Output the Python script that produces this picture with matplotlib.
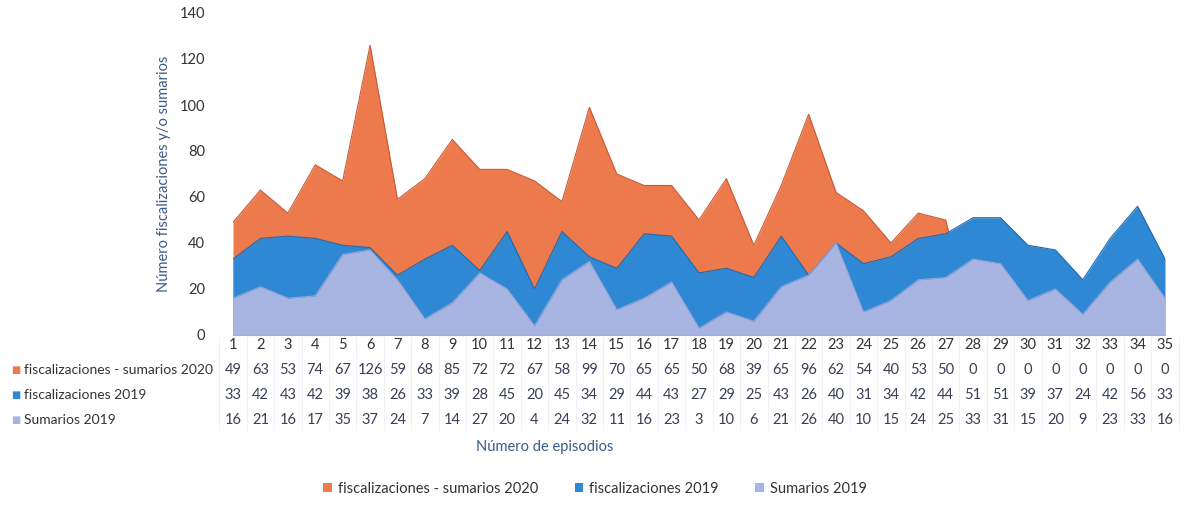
import matplotlib.pyplot as plt
import matplotlib.transforms as mtransforms
from matplotlib.patches import Patch

plt.rcParams['font.family'] = ['Lato', 'DejaVu Sans']

episodios = list(range(1, 36))
fisc_sum_2020 = [49, 63, 53, 74, 67, 126, 59, 68, 85, 72, 72, 67, 58, 99, 70, 65, 65, 50,
                 68, 39, 65, 96, 62, 54, 40, 53, 50, 0, 0, 0, 0, 0, 0, 0, 0]
fisc_2019 = [33, 42, 43, 42, 39, 38, 26, 33, 39, 28, 45, 20, 45, 34, 29, 44, 43, 27,
             29, 25, 43, 26, 40, 31, 34, 42, 44, 51, 51, 39, 37, 24, 42, 56, 33]
sumarios_2019 = [16, 21, 16, 17, 35, 37, 24, 7, 14, 27, 20, 4, 24, 32, 11, 16, 23, 3,
                 10, 6, 21, 26, 40, 10, 15, 24, 25, 33, 31, 15, 20, 9, 23, 33, 16]

labels = ['fiscalizaciones - sumarios 2020', 'fiscalizaciones 2019', 'Sumarios 2019']
colors = ['#EC7A4D', '#2F88D3', '#A8B5E2']
edges = ['#C85A35', '#1F6AAE', '#97A4D4']
series = [fisc_sum_2020, fisc_2019, sumarios_2019]

fig = plt.figure(figsize=(11.87, 5.05), dpi=100)
ax = fig.add_axes([233 / 1187, 1 - 335 / 505, (1165 - 233) / 1187, (335 - 13) / 505])

z = 1
for vals, c, e in zip(series, colors, edges):
    ax.fill_between(episodios, vals, 0, color=c, linewidth=0, zorder=z)
    ax.plot(episodios, vals, color=e, linewidth=0.8, zorder=z + 1)
    z += 2

ax.set_xlim(1, 35)
ax.set_ylim(0, 140)
ax.set_yticks(range(0, 141, 20))
ax.tick_params(axis='y', length=0, labelsize=10.5, labelcolor='#333333', pad=20)
ax.set_xticks([])
for s in ['top', 'right', 'left']:
    ax.spines[s].set_visible(False)
ax.spines['bottom'].set_color('#9fb0d0')
ax.spines['bottom'].set_zorder(10)
ax.set_ylabel('Número fiscalizaciones y/o sumarios', fontsize=10.5, color='#3b5b8a', labelpad=6)

# data table under the axis
tr = mtransforms.blended_transform_factory(ax.transData, fig.transFigure)
row_y = [1 - 345 / 505, 1 - 370 / 505, 1 - 395 / 505, 1 - 420 / 505]
for i, ep in enumerate(episodios):
    ax.text(ep, row_y[0], str(ep), transform=tr, ha='center', va='center',
            fontsize=10.5, color='#333333', clip_on=False)
    for r, vals in enumerate(series):
        ax.text(ep, row_y[r + 1], str(vals[i]), transform=tr, ha='center', va='center',
                fontsize=10.5, color='#3a3f55', clip_on=False)
for k in range(0, 36):
    ax.plot([k + 0.5, k + 0.5], [1 - 337 / 505, 1 - 430 / 505], transform=tr,
            color='#eceff5', linewidth=0.6, clip_on=False)

for r, (lab, c) in enumerate(zip(labels, colors)):
    fig.text(11 / 1187, row_y[r + 1], '■', color=c, fontsize=7, va='center',
             family='DejaVu Sans')
    fig.text(24 / 1187, row_y[r + 1], lab, color='#333333', fontsize=10, va='center')

fig.text(545 / 1187, 1 - 447 / 505, 'Número de episodios', fontsize=10.5,
         color='#3b5b8a', ha='center', va='center')

handles = [Patch(facecolor=c, edgecolor='none') for c in colors]
fig.legend(handles, labels, loc='center', bbox_to_anchor=(595 / 1187, 1 - 489 / 505),
           ncol=3, frameon=False, fontsize=10.5, handlelength=0.6, handleheight=0.6,
           handletextpad=0.4, columnspacing=2.5, labelcolor='#333333')

fig.savefig('out.png', dpi=100)
